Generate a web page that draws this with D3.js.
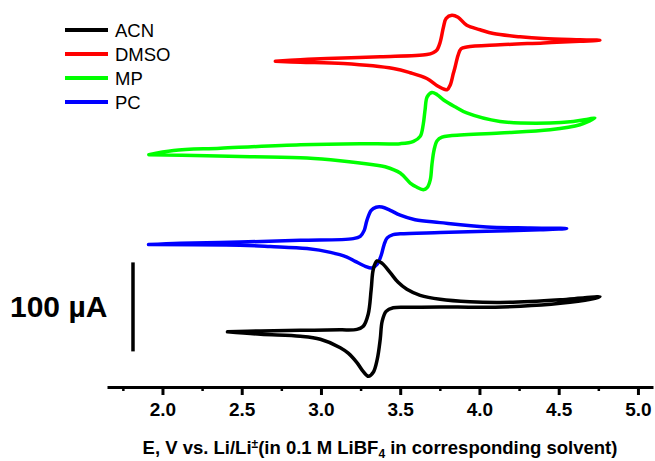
<!DOCTYPE html>
<html>
<head>
<meta charset="utf-8">
<script src="https://cdn.jsdelivr.net/npm/d3@7"></script>
<style>
  body { margin: 0; background: #fff; }
  svg { display: block; font-family: "Liberation Sans", Arial, sans-serif; }
</style>
</head>
<body>
<svg id="chart" width="655" height="461"></svg>
<script>
// solvents, legend order and colours
const solvents = ['ACN', 'DMSO', 'MP', 'PC']
const colors = ['#000000', '#ff0000', '#00ff00', '#0000ff']
// vertical offset of each trace (uA)
const offsets = [62, 366, 261, 160]

// potentials (V vs Li/Li+) and currents (uA), forward sweep then reverse
const acnE = [2.41, 2.62, 2.87, 3.12, 3.227, 3.267, 3.298, 3.317, 3.33, 3.353, 3.386, 3.437, 3.487, 3.542, 3.626, 3.752, 3.94, 4.13, 4.32, 4.51, 4.665, 4.76,
  4.70, 4.51, 4.26, 4.00, 3.752, 3.563, 3.456, 3.411, 3.386, 3.374, 3.355, 3.33, 3.30, 3.266, 3.227, 3.172, 3.122, 2.996, 2.87, 2.62, 2.41]
const acnI = [0, 1, 1.7, 2.2, 2.8, 6.2, 19.7, 47.8, 70, 79.6, 77, 66.5, 55.6, 47.8, 41, 36.5, 33.7, 33, 34, 36, 38.2, 39.3,
  36.5, 32, 28.7, 27.5, 28, 27.5, 27, 23, 11.8, -8.4, -31, -45.5, -50, -44.4, -34.6, -24, -17.8, -8.4, -5, -2.8, 0]

const dmsoE = [2.712, 2.87, 3.038, 3.374, 3.668, 3.708, 3.731, 3.752, 3.773, 3.79, 3.826, 3.865, 3.92, 4.004, 4.088, 4.256, 4.403, 4.634, 4.76,
  4.634, 4.403, 4.13, 3.92, 3.884, 3.865, 3.846, 3.835, 3.815, 3.796, 3.783, 3.739, 3.668, 3.563, 3.457, 3.142, 2.87, 2.712]
const dmsoI = [0, 1.7, 3, 5, 7.5, 9.6, 12.4, 21.3, 38.5, 48.3, 51.7, 49.4, 40.4, 35.4, 31.1, 27.5, 25.5, 24.2, 23.6,
  22.5, 20.6, 18.5, 16.1, 14, 6.7, -6.7, -13.8, -27, -32, -31.8, -28, -19.4, -12.9, -8.2, -2.6, -1.1, 0]

const mpE = [1.914, 2.07, 2.365, 2.87, 3.248, 3.50, 3.584, 3.626, 3.645, 3.657, 3.67, 3.70, 3.733, 3.772, 3.846, 3.92, 4.13, 4.445, 4.592, 4.684, 4.728,
  4.634, 4.445, 4.13, 3.815, 3.764, 3.733, 3.714, 3.70, 3.69, 3.67, 3.646, 3.60, 3.563, 3.50, 3.405, 3.33, 3.12, 2.912, 2.555, 2.28, 1.914]
const mpI = [0, 4.8, 7.3, 11.2, 12.4, 12.4, 15, 20.6, 33.7, 50.6, 65, 70, 67.4, 61.8, 53.9, 46.9, 37.4, 35.6, 37.4, 39.9, 41.2,
  33.7, 28.1, 24.4, 21.3, 19.7, 15.7, 5.6, -11.2, -28, -37, -39.3, -36, -31.8, -20.6, -13.5, -11.2, -6.7, -3.7, -2.2, -1.1, 0]

const pcE = [1.912, 2.113, 2.49, 2.87, 3.204, 3.248, 3.273, 3.29, 3.317, 3.348, 3.384, 3.437, 3.50, 3.594, 3.752, 4.046, 4.32, 4.55,
  4.38, 4.046, 3.752, 3.50, 3.455, 3.418, 3.399, 3.38, 3.355, 3.321, 3.28, 3.216, 3.164, 3.06, 2.912, 2.68, 2.49, 1.912]
const pcI = [0, 1.5, 2.9, 4.8, 6.7, 9.3, 16, 27.3, 38.5, 42, 42.2, 38.5, 33, 27.9, 24.7, 19.8, 18.7, 18,
  16.6, 15, 13.5, 12.1, 11.2, 7.6, 0.3, -12, -22, -26.3, -24.4, -18.8, -14, -8.7, -4.5, -2.2, -0.8, 0]

const traces = [[acnE, acnI], [dmsoE, dmsoI], [mpE, mpI], [pcE, pcI]]

const xTicks = [2.0, 2.5, 3.0, 3.5, 4.0, 4.5, 5.0]
const xMinor = [1.75, 2.25, 2.75, 3.25, 3.75, 4.25, 4.75]
const scaleBar = [40, 140]   // 100 uA

const svg = d3.select('#chart')

const x = d3.scaleLinear([1.65, 5.095], [107, 653])
const y = d3.scaleLinear([0, 100], [387, 298])

const line = d3.line()
  .x(d => x(d[0]))
  .y(d => y(d[1]))
  .curve(d3.curveCatmullRom.alpha(0.5))

// draw PC, MP, DMSO, ACN so black ends on top like the original
const drawOrder = [3, 2, 1, 0]
svg.append('g')
  .selectAll('path')
  .data(drawOrder)
  .join('path')
  .attr('d', i => {
    const [E, I] = traces[i]
    return line(E.map((e, k) => [e, I[k] + offsets[i]]))
  })
  .attr('fill', 'none')
  .attr('stroke', i => colors[i])
  .attr('stroke-width', 3.5)
  .attr('stroke-linejoin', 'round')
  .attr('stroke-linecap', 'round')

// x axis, minor ticks first
svg.append('g')
  .attr('transform', `translate(0, ${y(0)})`)
  .call(d3.axisBottom(x).tickValues(xMinor).tickSize(4).tickFormat(''))
  .call(g => g.select('.domain').remove())
  .call(g => g.selectAll('line').attr('stroke-width', 2.5))

const xAxis = svg.append('g')
  .attr('transform', `translate(0, ${y(0)})`)
  .call(d3.axisBottom(x).tickValues(xTicks).tickSize(8).tickSizeOuter(0).tickPadding(8).tickFormat(d3.format('.1f')))
xAxis.select('.domain').attr('stroke-width', 3)
xAxis.selectAll('.tick line').attr('stroke-width', 3)
xAxis.selectAll('text')
  .attr('font-size', '19px')
  .attr('font-weight', 'bold')
  .attr('font-family', '"Liberation Sans", Arial, sans-serif')
  .attr('fill', '#000')

// axis title
const title = svg.append('text')
  .attr('x', 380)
  .attr('y', 454)
  .attr('text-anchor', 'middle')
  .attr('font-size', '18.5px')
  .attr('font-weight', 'bold')
title.append('tspan').text('E, V vs. Li/Li')
title.append('tspan').text('\u00b1').attr('dy', -6).attr('font-size', '12px')
title.append('tspan').text('(in 0.1 M LiBF').attr('dy', 6)
title.append('tspan').text('4').attr('dy', 4).attr('font-size', '12px')
title.append('tspan').text(' in corresponding solvent)').attr('dy', -4)

// 100 uA scale bar
svg.append('line')
  .attr('x1', x(1.814)).attr('x2', x(1.814))
  .attr('y1', y(scaleBar[0])).attr('y2', y(scaleBar[1]))
  .attr('stroke', '#000')
  .attr('stroke-width', 3.5)

svg.append('text')
  .attr('x', 10)
  .attr('y', 317)
  .attr('font-size', '30px')
  .attr('font-weight', 'bold')
  .text('100 \u00b5A')

// legend
const legend = svg.append('g')
  .selectAll('g')
  .data(solvents)
  .join('g')
  .attr('transform', (d, i) => `translate(65, ${30 + i * 24})`)

legend.append('line')
  .attr('x1', 0).attr('x2', 43)
  .attr('stroke', (d, i) => colors[i])
  .attr('stroke-width', 4)

legend.append('text')
  .attr('x', 50)
  .attr('y', 6.5)
  .attr('font-size', '18.5px')
  .text(d => d)
</script>
</body>
</html>
